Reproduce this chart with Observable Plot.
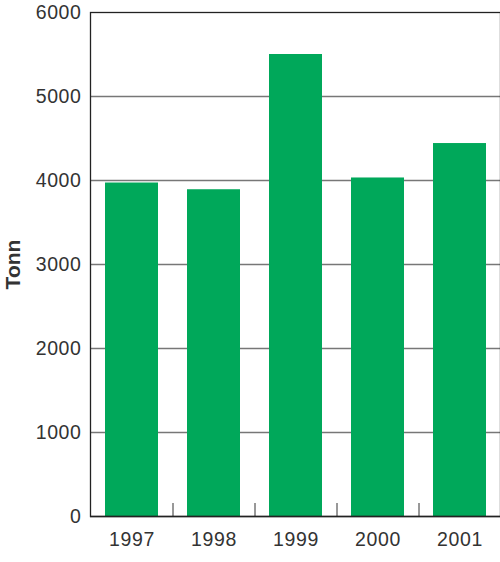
<!DOCTYPE html>
<html>
<head>
<meta charset="utf-8">
<script src="https://cdn.jsdelivr.net/npm/d3@7"></script>
<script src="https://cdn.jsdelivr.net/npm/@observablehq/plot@0.6"></script>
<style>
  html, body { margin: 0; padding: 0; background: #fff; }
  #chart { width: 500px; height: 562px; }
  #chart svg g[aria-label$="tick label"] text { font-size: 19.5px; letter-spacing: 0.6px; }
  #chart svg g.ylab text { font-size: 21px; font-weight: bold; }
</style>
</head>
<body>
<div id="chart"></div>
<script>
const years = ["1997", "1998", "1999", "2000", "2001"];
const tonnes = [3970, 3890, 5500, 4030, 4440];
const yTicks = [0, 1000, 2000, 3000, 4000, 5000, 6000];
const gridValues = [1000, 2000, 3000, 4000, 5000];
const yLabel = "Tonn";

const data = years.map((y, i) => ({year: y, value: tonnes[i]}));

const W = 500, H = 562;
const mL = 90, mR = 0, mT = 12, mB = 46;
const yMax = 6000;
const step = (W - mL - mR) / years.length;
const tickLen = 13;
const tickTop = tickLen * yMax / (H - mT - mB);

const chart = Plot.plot({
  width: W,
  height: H,
  marginLeft: mL,
  marginRight: mR,
  marginTop: mT,
  marginBottom: mB,
  style: {fontFamily: "'Liberation Sans', Arial, Helvetica, sans-serif", color: "#333", background: "#fff"},
  x: {domain: years, paddingInner: 0.354, paddingOuter: 0.177, align: 0.5},
  y: {domain: [0, yMax]},
  marks: [
    Plot.ruleY(gridValues, {stroke: "#777", strokeWidth: 1.3}),
    Plot.barY(data, {x: "year", y: "value", fill: "#00a85a"}),
    Plot.ruleX(years.slice(1), {x: d => d, y1: 0, y2: tickTop, dx: -step / 2, stroke: "#333", strokeWidth: 1}),
    Plot.axisY({ticks: yTicks, tickFormat: d3.format("d"), tickSize: 0, tickPadding: 9, fontSize: 19.5, fill: "#333", label: null}),
    Plot.axisX({tickSize: 0, tickPadding: 16, fontSize: 19.5, fill: "#333", label: null}),
    Plot.text([yLabel], {text: d => d, frameAnchor: "left", dx: -77, rotate: -90, textAnchor: "middle", lineAnchor: "middle",
      fontSize: 21, fontWeight: "bold", fill: "#333", className: "ylab"}),
    Plot.ruleY([0], {stroke: "#222", strokeWidth: 1.3}),
    Plot.frame({stroke: "#222", strokeWidth: 1.3})
  ]
});

document.getElementById("chart").appendChild(chart);
</script>
</body>
</html>
